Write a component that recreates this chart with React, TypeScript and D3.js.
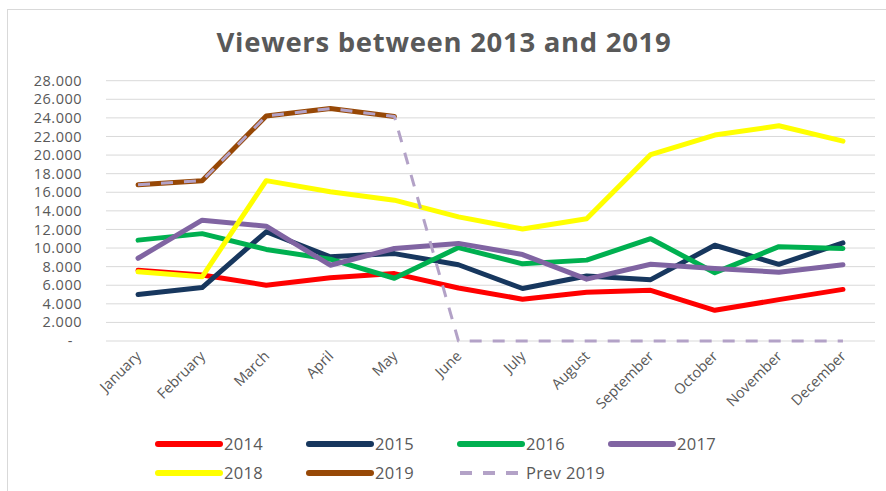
import { useEffect, useRef } from "react";
import * as d3 from "d3";

const months = [
  "January", "February", "March", "April", "May", "June",
  "July", "August", "September", "October", "November", "December",
];
const yTicks = [0, 2000, 4000, 6000, 8000, 10000, 12000, 14000, 16000, 18000, 20000, 22000, 24000, 26000, 28000];

const v2014 = [7600, 7100, 6000, 6800, 7250, 5700, 4500, 5250, 5450, 3300, 4450, 5550];
const v2015 = [5000, 5750, 11750, 9050, 9400, 8200, 5650, 7000, 6600, 10300, 8250, 10550];
const v2016 = [10850, 11550, 9850, 8800, 6750, 10050, 8300, 8700, 11000, 7350, 10150, 9950];
const v2017 = [8900, 13000, 12350, 8150, 9950, 10500, 9300, 6650, 8250, 7800, 7400, 8200];
const v2018 = [7450, 6900, 17250, 16050, 15150, 13350, 12050, 13150, 20050, 22150, 23150, 21500];
const v2019 = [16800, 17250, 24200, 25000, 24150];
const prev2019 = [16800, 17250, 24200, 25000, 24150, 0, 0, 0, 0, 0, 0, 0];

const seriesNames = ["2014", "2015", "2016", "2017", "2018", "2019", "Prev 2019"];
const seriesColors = ["#FF0000", "#17375E", "#00B050", "#8064A2", "#FFFF00", "#974806", "#B3A2C7"];

const W = 886;
const H = 491;
const FONT = "'Open Sans', 'DejaVu Sans', sans-serif";
const GREY = "#595959";

export default function App() {
  const svgRef = useRef<SVGSVGElement | null>(null);

  useEffect(() => {
    if (!svgRef.current) return;
    const svg = d3.select(svgRef.current);
    svg.selectAll("*").remove();

    const x = d3.scaleBand<string>().domain(months).range([106, 875]).padding(0);
    const y = d3.scaleLinear().domain([0, 28000]).range([341, 80.7]);
    const cx = (i: number) => x(months[i])! + x.bandwidth() / 2;

    // chart border
    svg.append("rect")
      .attr("x", 7.5).attr("y", 9.5)
      .attr("width", W).attr("height", H)
      .attr("fill", "white").attr("stroke", "#d9d9d9");

    svg.append("text")
      .attr("x", 444).attr("y", 52)
      .attr("text-anchor", "middle")
      .attr("font-family", FONT).attr("font-weight", 700)
      .attr("font-size", 27.5).attr("letter-spacing", 0.7).attr("fill", GREY)
      .text("Viewers between 2013 and 2019");

    // grid
    svg.append("g").selectAll("line").data(yTicks).join("line")
      .attr("x1", 106).attr("x2", 875)
      .attr("y1", (d) => y(d)).attr("y2", (d) => y(d))
      .attr("stroke", "#d9d9d9").attr("stroke-width", 1);

    const fmt = (d: number) => (d === 0 ? "-" : d3.format(",")(d).replace(/,/g, "."));
    svg.append("g").selectAll("text").data(yTicks).join("text")
      .attr("x", (d) => (d === 0 ? 73 : 82))
      .attr("y", (d) => y(d))
      .attr("dy", "0.35em")
      .attr("text-anchor", "end")
      .attr("font-family", FONT).attr("font-size", 14.5).attr("letter-spacing", 0.5).attr("fill", GREY)
      .text(fmt);

    svg.append("g").selectAll("text").data(months).join("text")
      .attr("transform", (_, i) => `translate(${cx(i) + 4},${357}) rotate(-45)`)
      .attr("text-anchor", "end")
      .attr("font-family", FONT).attr("font-size", 14.5).attr("fill", GREY)
      .text((d) => d);

    const line = d3.line<number>()
      .x((_, i) => cx(i))
      .y((d) => y(d));

    const solid = [v2014, v2015, v2016, v2017, v2018, v2019];
    const g = svg.append("g").attr("fill", "none");
    solid.forEach((vals, k) => {
      g.append("path")
        .datum(vals)
        .attr("d", line)
        .attr("stroke", seriesColors[k])
        .attr("stroke-width", 5)
        .attr("stroke-linejoin", "round")
        .attr("stroke-linecap", "round");
    });
    g.append("path")
      .datum(prev2019)
      .attr("d", line)
      .attr("stroke", seriesColors[6])
      .attr("stroke-width", 3)
      .attr("stroke-dasharray", "12 11")
      .attr("stroke-linejoin", "round");

    // legend
    const legend = svg.append("g");
    seriesNames.forEach((name, k) => {
      const lx = 158 + (k % 4) * 151;
      const ly = k < 4 ? 444 : 473;
      const dashed = k === 6;
      legend.append("line")
        .attr("x1", lx).attr("x2", lx + 62)
        .attr("y1", ly).attr("y2", ly)
        .attr("stroke", seriesColors[k])
        .attr("stroke-width", dashed ? 4 : 6)
        .attr("stroke-linecap", dashed ? "butt" : "round")
        .attr("stroke-dasharray", dashed ? "12 11" : null);
      legend.append("text")
        .attr("x", lx + 66).attr("y", ly)
        .attr("dy", "0.35em")
        .attr("font-family", FONT).attr("font-size", 16.5).attr("letter-spacing", 0.3).attr("fill", GREY)
        .text(name);
    });
  }, []);

  return (
    <svg
      ref={svgRef}
      width={W}
      height={H}
      style={{ position: "absolute", left: 0, top: 0, display: "block" }}
    />
  );
}
